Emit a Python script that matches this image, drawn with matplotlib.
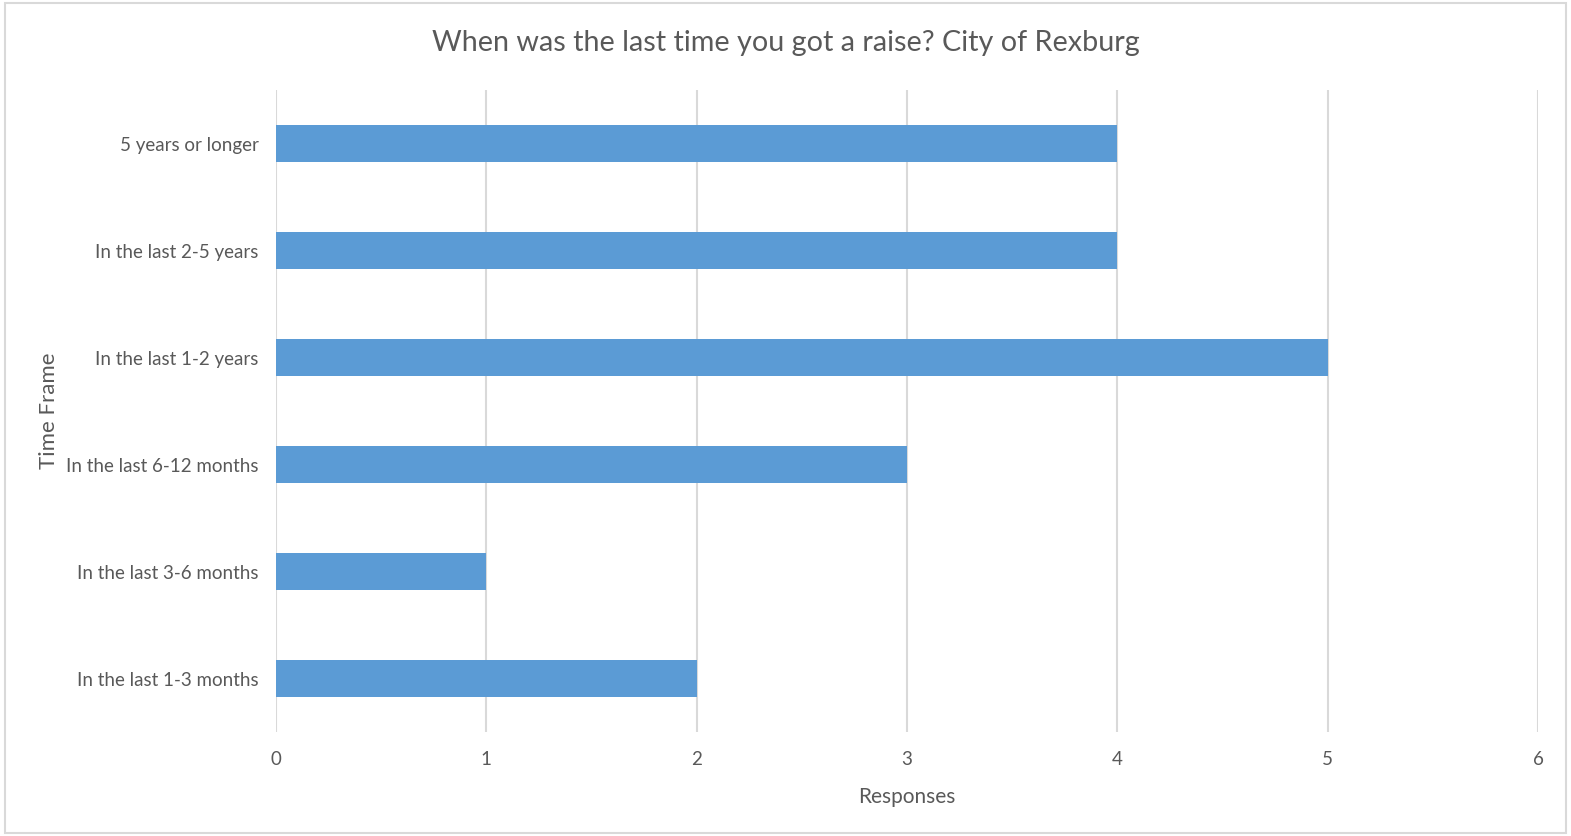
import matplotlib.pyplot as plt
from matplotlib.patches import Rectangle

# Survey answers, bottom to top as drawn
categories = ['In the last 1-3 months', 'In the last 3-6 months', 'In the last 6-12 months',
              'In the last 1-2 years', 'In the last 2-5 years', '5 years or longer']
responses = [2, 1, 3, 5, 4, 4]
x_ticks = [0, 1, 2, 3, 4, 5, 6]

text_color = '#595959'
grid_color = '#d9d9d9'
bar_color = '#5b9bd5'

plt.rcParams['font.family'] = ['Lato', 'DejaVu Sans']

fig = plt.figure(figsize=(15.71, 8.36), dpi=100)
ax = fig.add_axes([0.1757, 0.1244, 0.8033, 0.7679])

ax.barh(categories, responses, height=0.35, color=bar_color, zorder=3)
ax.set_xlim(0, 6)
ax.set_ylim(-0.5, len(categories) - 0.5)
ax.set_xticks(x_ticks)
ax.grid(axis='x', color=grid_color, linewidth=1.5, zorder=0)
for s in ax.spines.values():
    s.set_visible(False)
ax.tick_params(axis='both', length=0, colors=text_color, labelsize=13.5)
ax.tick_params(axis='x', pad=14)
ax.tick_params(axis='y', pad=12.5)

ax.set_xlabel('Responses', color=text_color, fontsize=15, labelpad=13)
ax.set_ylabel('Time Frame', color=text_color, fontsize=16, labelpad=5)
fig.text(0.5, 0.948, 'When was the last time you got a raise? City of Rexburg',
         ha='center', va='center', color=text_color, fontsize=20.7)

# light frame around the whole chart
fig.patches.append(Rectangle((0.003, 0.003), 0.994, 0.993, transform=fig.transFigure,
                             fill=False, edgecolor=grid_color, linewidth=1.5))

fig.savefig('out.png', dpi=100)
